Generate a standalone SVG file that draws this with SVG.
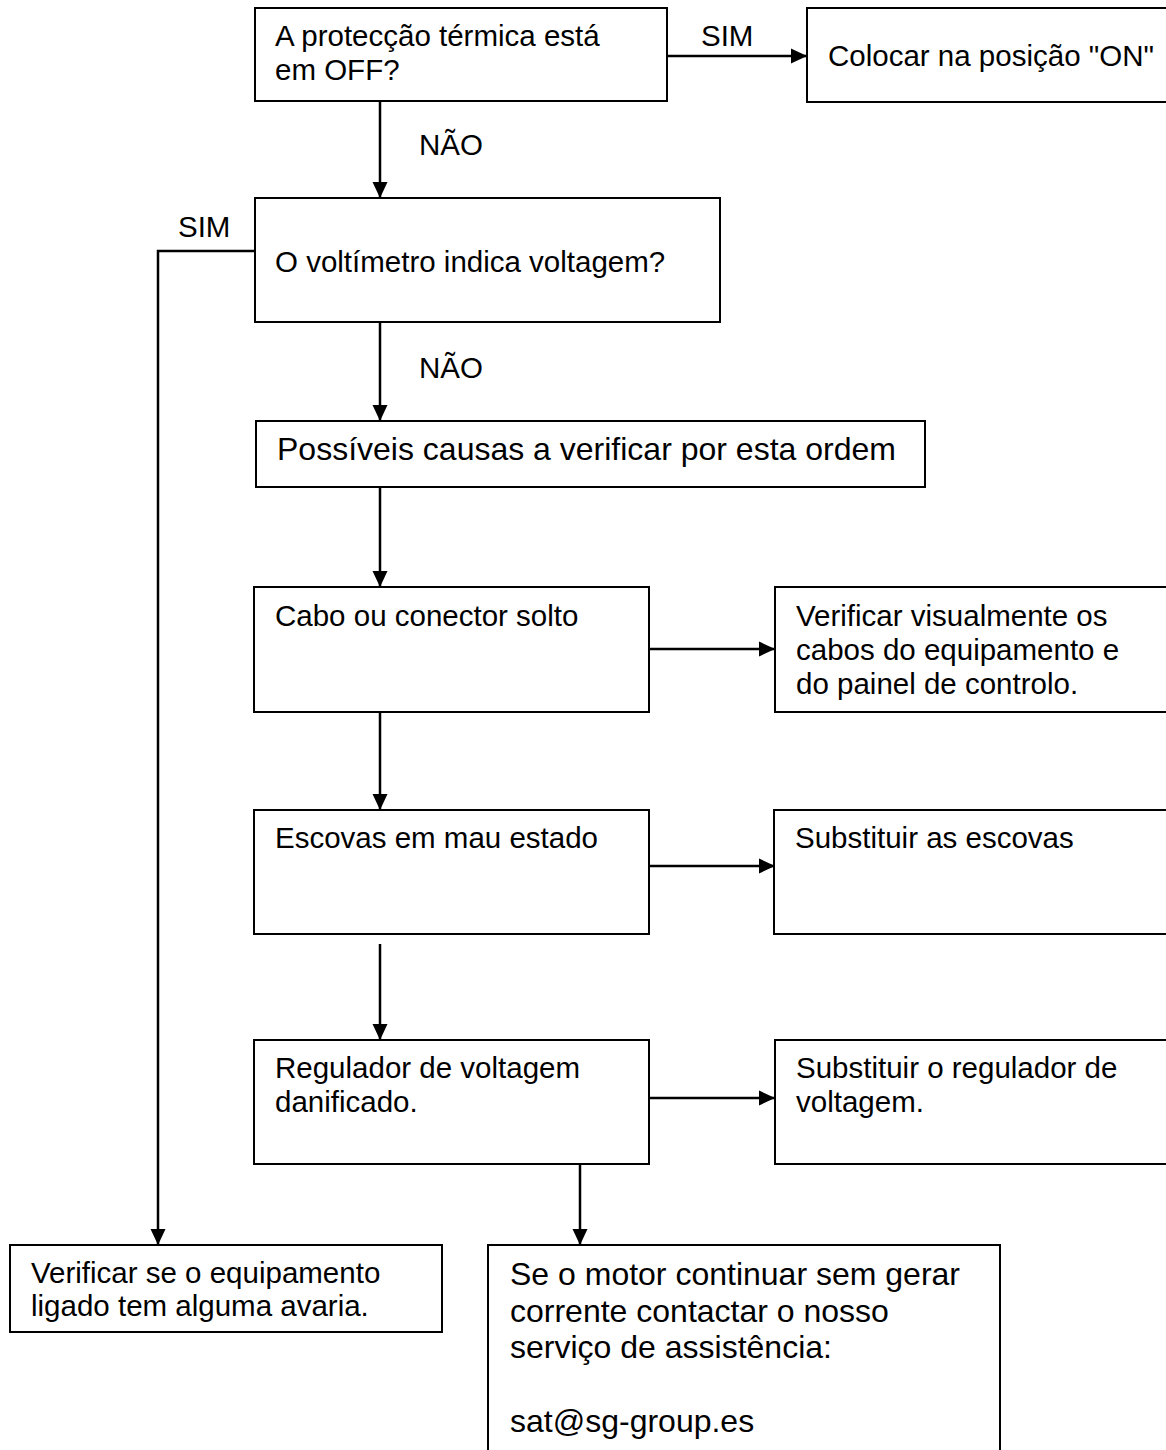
<svg xmlns="http://www.w3.org/2000/svg" width="1166" height="1450" viewBox="0 0 1166 1450">
<style>
.box{fill:#fff;stroke:#000;stroke-width:2}
.t{font-family:"Liberation Sans",Arial,sans-serif;font-size:29.5px;fill:#000}
.tb{font-family:"Liberation Sans",Arial,sans-serif;font-size:32px;fill:#000}
.c{stroke:#000;stroke-width:2.5;fill:none}
</style>
<defs>
<marker id="a" viewBox="0 0 16 16" refX="16" refY="8" markerWidth="16" markerHeight="16" markerUnits="userSpaceOnUse" orient="auto">
<path d="M0,0.5 L16,8 L0,15.5 z" fill="#000"/>
</marker>
</defs>
<g id="connectors">
<path class="c" d="M667,56 L807,56" marker-end="url(#a)"/>
<path class="c" d="M380,101 L380,198" marker-end="url(#a)"/>
<path class="c" d="M255,251 L158,251 L158,1245" marker-end="url(#a)"/>
<path class="c" d="M380,322 L380,421" marker-end="url(#a)"/>
<path class="c" d="M380,487 L380,587" marker-end="url(#a)"/>
<path class="c" d="M649,649 L775,649" marker-end="url(#a)"/>
<path class="c" d="M380,712 L380,810" marker-end="url(#a)"/>
<path class="c" d="M649,866 L775,866" marker-end="url(#a)"/>
<path class="c" d="M380,944 L380,1040" marker-end="url(#a)"/>
<path class="c" d="M649,1098 L775,1098" marker-end="url(#a)"/>
<path class="c" d="M580,1164 L580,1245" marker-end="url(#a)"/>
<text class="t" x="701" y="46">SIM</text>
<text class="t" x="419" y="155">NÃO</text>
<text class="t" x="178" y="237">SIM</text>
<text class="t" x="419" y="378">NÃO</text>
</g>
<g id="n1"><rect class="box" x="255" y="8" width="412" height="93"/>
<text class="t" x="275" y="46">A protecção térmica está</text><text class="t" x="275" y="80">em OFF?</text></g>
<g id="n2"><rect class="box" x="807" y="8" width="370" height="94"/>
<text class="t" x="828" y="66">Colocar na posição "ON"</text></g>
<g id="n3"><rect class="box" x="255" y="198" width="465" height="124"/>
<text class="t" x="275" y="272">O voltímetro indica voltagem?</text></g>
<g id="n4"><rect class="box" x="256" y="421" width="669" height="66"/>
<text class="tb" x="277" y="460">Possíveis causas a verificar por esta ordem</text></g>
<g id="n5"><rect class="box" x="254" y="587" width="395" height="125"/>
<text class="t" x="275" y="626">Cabo ou conector solto</text></g>
<g id="n6"><rect class="box" x="775" y="587" width="400" height="125"/>
<text class="t" x="796" y="626">Verificar visualmente os</text><text class="t" x="796" y="660">cabos do equipamento e</text><text class="t" x="796" y="694">do painel de controlo.</text></g>
<g id="n7"><rect class="box" x="254" y="810" width="395" height="124"/>
<text class="t" x="275" y="848">Escovas em mau estado</text></g>
<g id="n8"><rect class="box" x="774" y="810" width="400" height="124"/>
<text class="t" x="795" y="848">Substituir as escovas</text></g>
<g id="n9"><rect class="box" x="254" y="1040" width="395" height="124"/>
<text class="t" x="275" y="1078">Regulador de voltagem</text><text class="t" x="275" y="1112">danificado.</text></g>
<g id="n10"><rect class="box" x="775" y="1040" width="400" height="124"/>
<text class="t" x="796" y="1078">Substituir o regulador de</text><text class="t" x="796" y="1112">voltagem.</text></g>
<g id="n11"><rect class="box" x="488" y="1245" width="512" height="220"/>
<text class="tb" x="510" y="1285">Se o motor continuar sem gerar</text><text class="tb" x="510" y="1322">corrente contactar o nosso</text><text class="tb" x="510" y="1358">serviço de assistência:</text><text class="tb" x="510" y="1432">sat@sg-group.es</text></g>
<g id="n12"><rect class="box" x="10" y="1245" width="432" height="87"/>
<text class="t" x="31" y="1283">Verificar se o equipamento</text><text class="t" x="31" y="1316">ligado tem alguma avaria.</text></g>
</svg>
